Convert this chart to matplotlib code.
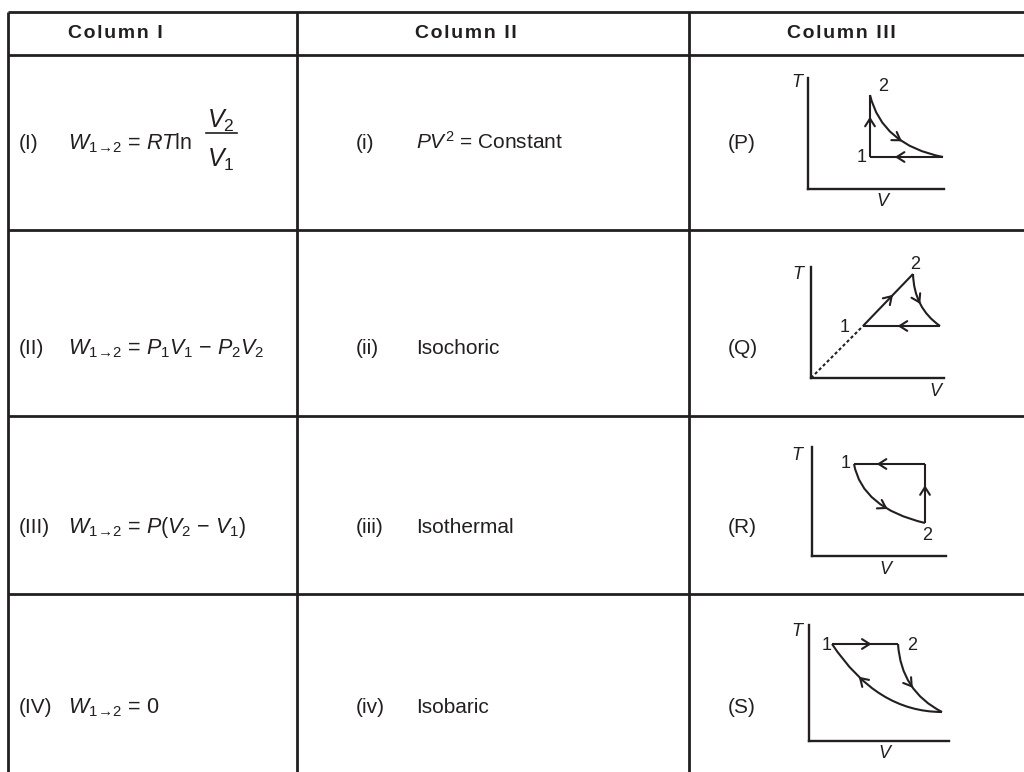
import matplotlib
matplotlib.use("Agg")
import matplotlib.pyplot as plt
import numpy as np
from matplotlib.path import Path
from matplotlib.patches import PathPatch

plt.rcParams["font.family"] = ["Liberation Sans", "DejaVu Sans"]
plt.rcParams["mathtext.fontset"] = "custom"
plt.rcParams["mathtext.rm"] = "Liberation Sans"
plt.rcParams["mathtext.it"] = "Liberation Sans:italic"
plt.rcParams["mathtext.bf"] = "Liberation Sans:bold"

INK = "#231f20"
W, H = 1024, 772
SUB = r"W_{1\!\rightarrow\!2}"

# table text
headers = ["Column I", "Column II", "Column III"]
col1_tags = ["(I)", "(II)", "(III)", "(IV)"]
col1_text = [rf"${SUB}$ = $RT$ln",
             rf"${SUB}$ = $P_1V_1$ − $P_2V_2$",
             rf"${SUB}$ = $P$($V_2$ − $V_1$)",
             rf"${SUB}$ = 0"]
col2_tags = ["(i)", "(ii)", "(iii)", "(iv)"]
col2_text = [r"$PV^2$ = Constant", "Isochoric", "Isothermal", "Isobaric"]
col3_tags = ["(P)", "(Q)", "(R)", "(S)"]

# T-V sketches: 2 points -> straight line, 3 points -> quadratic curve
P_paths = [[(62, 32), (62, 94)], [(62, 94), (74, 44), (135, 32)], [(135, 32), (62, 32)]]
P_arrow_t = [0.65, 0.6, 0.66]
P_dashed = [False, False, False]
P_marks = {"1": (54, 32), "2": (75, 102)}

Q_paths = [[(0, 0), (52, 52)], [(52, 52), (102, 104)], [(102, 104), (103, 70), (129, 52)], [(129, 52), (52, 52)]]
Q_arrow_t = [None, 0.6, 0.5, 0.55]
Q_dashed = [True, False, False, False]
Q_marks = {"1": (34, 50), "2": (104, 113)}

R_paths = [[(42, 92), (50, 48), (113, 33)], [(113, 33), (113, 92)], [(113, 92), (42, 92)]]
R_arrow_t = [0.65, 0.64, 0.68]
R_dashed = [False, False, False]
R_marks = {"1": (34, 93), "2": (115, 21)}

S_paths = [[(23, 97), (89, 97)], [(89, 97), (92, 50), (133, 29)], [(133, 29), (68, 29), (23, 97)]]
S_arrow_t = [0.6, 0.55, 0.72]
S_dashed = [False, False, False]
S_marks = {"1": (18, 96), "2": (103, 95)}

# layout (pixels)
col_lines = [8, 297, 689]
row_lines = [12, 55, 230, 416, 594]
header_x = [68, 415, 787]
row_base = [149, 354, 533, 713]

fig = plt.figure(figsize=(W / 100, H / 100), dpi=100)
ax = fig.add_axes([0, 0, 1, 1])
ax.set_xlim(0, W)
ax.set_ylim(H, 0)
ax.axis("off")

for y in row_lines:
    ax.plot([col_lines[0], W], [y, y], color=INK, lw=2, solid_capstyle="butt")
for x in col_lines:
    ax.plot([x, x], [row_lines[0], H], color=INK, lw=2, solid_capstyle="butt")

for x, h in zip(header_x, headers):
    ax.text(x, 38, "\u200a".join(h), fontsize=14, fontweight="bold",
            color=INK, va="baseline")

for i, yb in enumerate(row_base):
    ax.text(19, yb, col1_tags[i], fontsize=15, color=INK, va="baseline")
    ax.text(68, yb, col1_text[i], fontsize=15.5, color=INK, va="baseline")
    ax.text(356, yb, col2_tags[i], fontsize=15, color=INK, va="baseline")
    ax.text(416, yb, col2_text[i], fontsize=15, color=INK, va="baseline")
    ax.text(728, yb, col3_tags[i], fontsize=15, color=INK, va="baseline")

# the V2/V1 fraction in row I
ax.text(221, 128, r"$V_2$", fontsize=18, color=INK, ha="center", va="baseline")
ax.plot([206, 237], [133, 133], color=INK, lw=1.2)
ax.text(221, 167, r"$V_1$", fontsize=18, color=INK, ha="center", va="baseline")


def point_on(pts, t):
    pts = np.asarray(pts, float)
    if len(pts) == 2:
        pos = pts[0] + t * (pts[1] - pts[0])
        d = pts[1] - pts[0]
    else:
        p0, c, p2 = pts
        pos = (1 - t) ** 2 * p0 + 2 * t * (1 - t) * c + t ** 2 * p2
        d = 2 * (1 - t) * (c - p0) + 2 * t * (p2 - c)
    return pos, d / np.hypot(*d)


def sketch(box, paths, arrow_t, dashed, marks, t_pos, v_pos):
    x0, y0, w, h = box
    sa = fig.add_axes([x0 / W, 1 - y0 / H, w / W, h / H])
    sa.set_xlim(0, w)
    sa.set_ylim(0, h)
    sa.patch.set_visible(False)
    sa.set_xticks([])
    sa.set_yticks([])
    for s in ["top", "right"]:
        sa.spines[s].set_visible(False)
    for s in ["left", "bottom"]:
        sa.spines[s].set_linewidth(1.7)
        sa.spines[s].set_color(INK)
    for pts, t, dash in zip(paths, arrow_t, dashed):
        codes = [Path.MOVETO, Path.LINETO] if len(pts) == 2 else [Path.MOVETO, Path.CURVE3, Path.CURVE3]
        sa.add_patch(PathPatch(Path(pts, codes), fill=False, color=INK, lw=1.5,
                               ls=(0, (1.5, 1.2)) if dash else "-", clip_on=False))
        if t is not None:
            tip, d = point_on(pts, t)
            sa.annotate("", xy=tip, xytext=tip - 3 * d,
                        arrowprops=dict(arrowstyle="->,head_length=0.55,head_width=0.35",
                                        color=INK, lw=1.5, shrinkA=0, shrinkB=0,
                                        mutation_scale=10), annotation_clip=False)
    for lab, (x, y) in marks.items():
        sa.text(x, y, lab, fontsize=13, color=INK, ha="center", va="center", clip_on=False)
    sa.text(*t_pos, "T", fontsize=13, style="italic", color=INK, ha="center", va="center")
    sa.text(*v_pos, "V", fontsize=13, style="italic", color=INK, ha="center", va="center")


sketch((808, 189, 136, 111), P_paths, P_arrow_t, P_dashed, P_marks, (-11, 106), (74, -13))
sketch((811, 378, 133, 111), Q_paths, Q_arrow_t, Q_dashed, Q_marks, (-13, 103), (124, -14))
sketch((812, 556, 134, 109), R_paths, R_arrow_t, R_dashed, R_marks, (-15, 101), (73, -14))
sketch((809, 741, 140, 116), S_paths, S_arrow_t, S_dashed, S_marks, (-12, 109), (75, -12))

fig.savefig("out.png", dpi=100)
